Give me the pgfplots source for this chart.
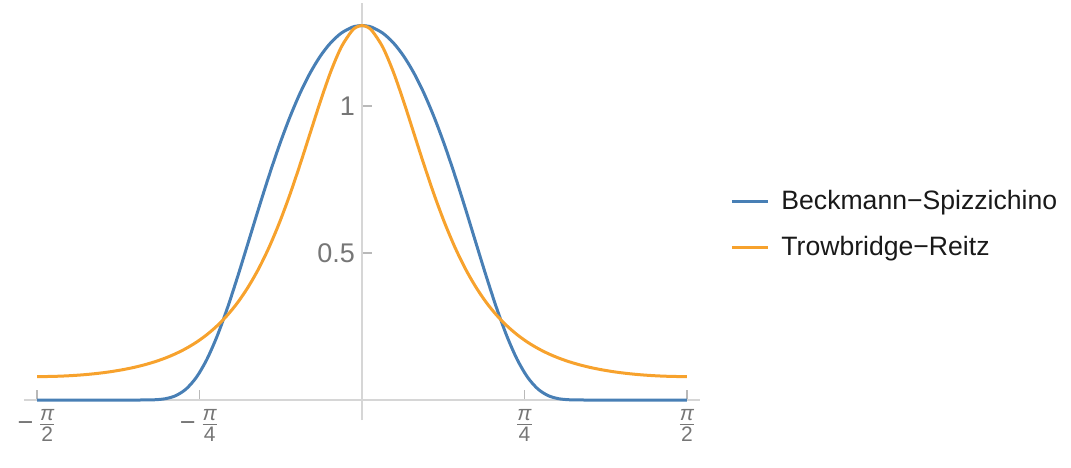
\documentclass[border=0pt]{standalone}
\usepackage{pgfplots}
\pgfplotsset{compat=1.18}
\usepackage{fontspec}
\setmainfont{Liberation Sans}
\definecolor{mblue}{RGB}{72,127,181}
\definecolor{morange}{RGB}{247,162,45}
\definecolor{axgray}{RGB}{214,214,214}
\definecolor{tkgray}{RGB}{185,185,185}
\definecolor{lbgray}{RGB}{118,118,118}
\newcommand{\fr}[1]{$\frac{\mbox{\fontsize{10.5}{10.5}\selectfont\itshape π}}{\mbox{\fontsize{10.5}{10.5}\selectfont #1}}$}
\begin{document}
\begin{tikzpicture}
\useasboundingbox (0,0) rectangle (535.5pt,233.5pt);
\begin{axis}[
  at={(12pt,23.5pt)}, anchor=south west,
  scale only axis, width=338pt, height=208.5pt,
  xmin=-1.634, xmax=1.634, ymin=-0.068, ymax=1.350,
  axis x line=middle, axis y line=middle,
  axis line style={-, draw=axgray, line width=0.8pt},
  xtick={-1.5708,-0.7854,0.7854,1.5708},
  xticklabels={{−\,\fr{2}},{−\,\fr{4}},{\fr{4}},{\fr{2}}},
  ytick={0.5,1}, yticklabels={0.5,1},
  /pgf/number format/assume math mode=true,
  tick style={draw=tkgray, line width=0.6pt},
  major tick length=5pt,
  tick align=inside,
  ticklabel style={font=\fontsize{13.5}{13.5}\selectfont, text=lbgray},
  xticklabel style={yshift=-1pt},
  legend cell align=left,
  legend image code/.code={\draw[#1] (0pt,0pt) -- (18pt,0pt);},
  legend style={at={(axis description cs:1.0444,0.4688)}, anchor=west,
    draw=none, fill=none, inner sep=0pt, row sep=12pt, column sep=6pt,
    nodes={inner sep=0pt}, font=\fontsize{13.3}{13.3}\selectfont, text=black!90},
]
\addplot[mblue, line width=1.5pt, smooth] coordinates {
(-1.5708,0) (-1.5,0) (-1.4,0) (-1.3,0) (-1.2,0) (-1.1,0) (-1.05,0.00011) (-1.0,0.00091)
(-0.95,0.00446) (-0.9,0.01486) (-0.85,0.03764) (-0.8,0.07780) (-0.75,0.13804)
(-0.7,0.21788) (-0.65,0.31416) (-0.6,0.42208) (-0.55,0.53590) (-0.5,0.65057)
(-0.45,0.76157) (-0.4,0.86542) (-0.35,0.95958) (-0.3,1.04247) (-0.25,1.11301)
(-0.2,1.17086) (-0.15,1.21576) (-0.1,1.24773) (-0.05,1.26687) (-0.025,1.27165)
(0,1.27324)
(0.025,1.27165) (0.05,1.26687) (0.1,1.24773) (0.15,1.21576) (0.2,1.17086)
(0.25,1.11301) (0.3,1.04247) (0.35,0.95958) (0.4,0.86542) (0.45,0.76157)
(0.5,0.65057) (0.55,0.53590) (0.6,0.42208) (0.65,0.31416) (0.7,0.21788)
(0.75,0.13804) (0.8,0.07780) (0.85,0.03764) (0.9,0.01486) (0.95,0.00446)
(1.0,0.00091) (1.05,0.00011) (1.1,0) (1.2,0) (1.3,0) (1.4,0) (1.5,0) (1.5708,0)
};
\addlegendentry{Beckmann−Spizzichino}
\addplot[morange, line width=1.5pt, smooth] coordinates {
(-1.5708,0.07958) (-1.55,0.07963) (-1.5,0.08018) (-1.45,0.08134) (-1.4,0.08314)
(-1.35,0.08563) (-1.3,0.08886) (-1.25,0.09292) (-1.2,0.09791) (-1.15,0.10397)
(-1.1,0.11127) (-1.05,0.12001) (-1.0,0.13044) (-0.95,0.14290) (-0.9,0.15777)
(-0.85,0.17553) (-0.8,0.19676) (-0.75,0.22218) (-0.7,0.25261) (-0.65,0.28906)
(-0.6,0.33248) (-0.55,0.38455) (-0.5,0.44603) (-0.45,0.51814) (-0.4,0.60147)
(-0.35,0.69578) (-0.3,0.79945) (-0.25,0.90882) (-0.2,1.01791) (-0.15,1.11836)
(-0.1,1.20037) (-0.05,1.25436) (-0.025,1.26848) (0,1.27324)
(0.025,1.26848) (0.05,1.25436) (0.1,1.20037) (0.15,1.11836) (0.2,1.01791)
(0.25,0.90882) (0.3,0.79945) (0.35,0.69578) (0.4,0.60147) (0.45,0.51814)
(0.5,0.44603) (0.55,0.38455) (0.6,0.33248) (0.65,0.28906) (0.7,0.25261)
(0.75,0.22218) (0.8,0.19676) (0.85,0.17553) (0.9,0.15777) (0.95,0.14290)
(1.0,0.13044) (1.05,0.12001) (1.1,0.11127) (1.15,0.10397) (1.2,0.09791)
(1.25,0.09292) (1.3,0.08886) (1.35,0.08563) (1.4,0.08314) (1.45,0.08134)
(1.5,0.08018) (1.55,0.07963) (1.5708,0.07958)
};
\addlegendentry{Trowbridge−Reitz}
\end{axis}
\end{tikzpicture}
\end{document}
